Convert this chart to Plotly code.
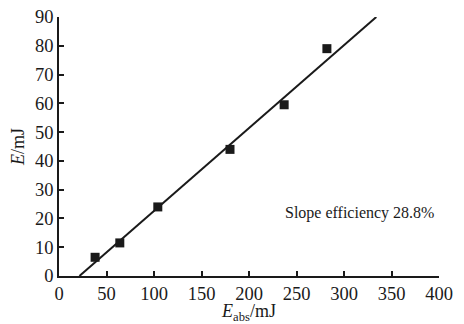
import plotly.graph_objects as go

e_abs = [38, 64, 104, 180, 237, 282]
e_out = [6.5, 11.5, 24, 44, 59.5, 79]
fit_x = [21.5, 334]
fit_y = [0, 90]
x_ticks = [0, 50, 100, 150, 200, 250, 300, 350, 400]
y_ticks = [0, 10, 20, 30, 40, 50, 60, 70, 80, 90]

font = dict(family="Liberation Serif, Times New Roman, serif", color="#1a1a1a")

fig = go.Figure()
fig.add_trace(go.Scatter(x=fit_x, y=fit_y, mode="lines",
                         line=dict(color="#1a1a1a", width=2), showlegend=False))
fig.add_trace(go.Scatter(x=e_abs, y=e_out, mode="markers",
                         marker=dict(symbol="square", size=9, color="#1a1a1a"),
                         showlegend=False))

fig.add_annotation(x=316, y=22, text="Slope efficiency 28.8%", showarrow=False,
                   font=dict(size=16, **font))

axis_common = dict(showgrid=False, zeroline=False, showline=True, linecolor="#1a1a1a",
                   linewidth=1.5, ticks="inside", ticklen=5, tickcolor="#1a1a1a",
                   tickwidth=1.5, tickfont=dict(size=18.5, **font), automargin=False)
fig.update_xaxes(range=[0, 400], tickvals=x_ticks, **axis_common,
                 title=dict(text="<i>E</i><sub>abs</sub>/mJ", font=dict(size=18, **font), standoff=8))
fig.update_yaxes(range=[0, 90], tickvals=y_ticks, **axis_common,
                 title=dict(text="<i>E</i>/mJ", font=dict(size=18, **font), standoff=6))

fig.update_layout(width=464, height=324, margin=dict(l=59, r=25, t=17, b=48),
                  plot_bgcolor="white", paper_bgcolor="white", font=font)

fig.write_html("out.html")
